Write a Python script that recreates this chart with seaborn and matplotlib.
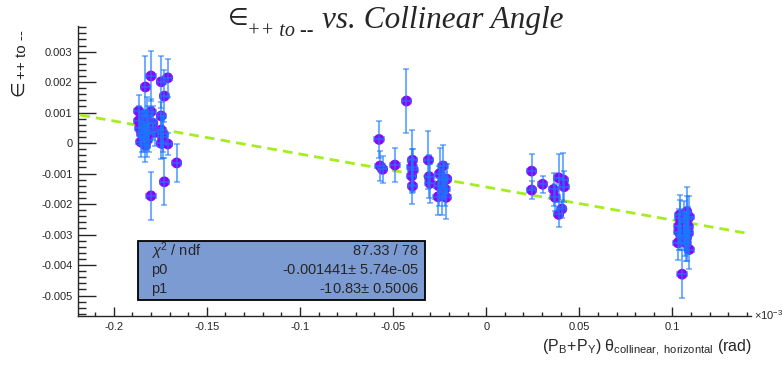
import matplotlib
matplotlib.use("Agg")
import matplotlib.pyplot as plt
from matplotlib.patches import Rectangle
from matplotlib.ticker import MultipleLocator, AutoMinorLocator, FuncFormatter
import numpy as np
import pandas as pd
import seaborn as sns

# x in units of 1e-3 rad, y = asymmetry
x_vals = [
    -0.1866, -0.1800, -0.1830, -0.1745, -0.1710, -0.1728, -0.1800, -0.1745, -0.1866, -0.1822,
    -0.1860, -0.1850, -0.1855, -0.1830, -0.1825, -0.1815, -0.1835, -0.1810, -0.1790, -0.1840,
    -0.1745, -0.1738, -0.1745, -0.1710, -0.1735, -0.1662, -0.1728, -0.1800, -0.1780, -0.1820,
    -0.0428, -0.0575, -0.0570, -0.0556, -0.0490, -0.0396, -0.0398, -0.0393, -0.0400, -0.0396,
    -0.0310, -0.0306, -0.0302, -0.0250, -0.0232, -0.0255, -0.0258, -0.0235, -0.0215, -0.0222,
    -0.0212, -0.0228,
    0.0244, 0.0244, 0.0303, 0.0362, 0.0370, 0.0389, 0.0415, 0.0419, 0.0406, 0.0389,
    0.1077, 0.1041, 0.1090, 0.1035, 0.1085, 0.1035, 0.1077, 0.1030, 0.1073, 0.1090,
    0.1052, 0.1060, 0.1070, 0.1045, 0.1080, 0.1065, 0.1040, 0.1085,
]
y_vals = [
    0.00105, 0.00220, 0.00184, 0.00201, 0.00214, 0.00154, 0.00103, 0.00089, 0.00073, 0.00092,
    0.00048, 0.00032, 0.00004, -0.00007, 0.00043, 0.00053, 0.00060, 0.00030, 0.00065, 0.00020,
    0.00043, 0.00020, -0.00001, -0.00003, 0.00030, -0.00065, -0.00127, -0.00173, 0.00035, 0.00010,
    0.00138, 0.00012, -0.00075, -0.00086, -0.00072, -0.00056, -0.00078, -0.00089, -0.00108, -0.00141,
    -0.00056, -0.00110, -0.00132, -0.00100, -0.00075, -0.00140, -0.00176, -0.00160, -0.00178, -0.00150,
    -0.00118, -0.00122,
    -0.00092, -0.00154, -0.00135, -0.00152, -0.00178, -0.00114, -0.00121, -0.00143, -0.00216, -0.00234,
    -0.00225, -0.00247, -0.00242, -0.00272, -0.00274, -0.00291, -0.00307, -0.00327, -0.00327, -0.00349,
    -0.00430, -0.00260, -0.00285, -0.00300, -0.00250, -0.00315, -0.00235, -0.00295,
]
y_errs = [
    0.00054, 0.00083, 0.00100, 0.00086, 0.00062, 0.00085, 0.00040, 0.00045, 0.00050, 0.00060,
    0.00055, 0.00060, 0.00050, 0.00055, 0.00065, 0.00070, 0.00045, 0.00060, 0.00055, 0.00050,
    0.00055, 0.00070, 0.00050, 0.00035, 0.00060, 0.00063, 0.00077, 0.00079, 0.00045, 0.00055,
    0.00104, 0.00060, 0.00050, 0.00045, 0.00055, 0.00100, 0.00060, 0.00070, 0.00055, 0.00060,
    0.00096, 0.00070, 0.00065, 0.00085, 0.00070, 0.00065, 0.00060, 0.00075, 0.00070, 0.00055,
    0.00050, 0.00060,
    0.00056, 0.00030, 0.00028, 0.00053, 0.00045, 0.00079, 0.00089, 0.00050, 0.00030, 0.00042,
    0.00080, 0.00060, 0.00070, 0.00055, 0.00065, 0.00060, 0.00080, 0.00055, 0.00060, 0.00065,
    0.00078, 0.00070, 0.00060, 0.00050, 0.00075, 0.00055, 0.00065, 0.00070,
]
x_err = 0.0025

# fit result y = p0 + p1 * x  (x in rad)
p0, p0_err = -0.001441, 5.74e-05
p1, p1_err = -10.83, 0.5006
chi2, ndf = 87.33, 78
fit_range = [-0.218, 0.139]

df = pd.DataFrame({"x": x_vals, "y": y_vals, "yerr": y_errs})
fit_x = np.linspace(fit_range[0], fit_range[1], 50)
fit_df = pd.DataFrame({"x": fit_x, "y": p0 + p1 * fit_x * 1e-3})

sns.set_style("ticks")
plt.rcParams["font.family"] = ["Liberation Sans", "DejaVu Sans"]
plt.rcParams["mathtext.fontset"] = "custom"
plt.rcParams["mathtext.rm"] = "Liberation Sans"
plt.rcParams["mathtext.it"] = "Liberation Sans:italic"

fig = plt.figure(figsize=(7.82, 3.66), dpi=100)
ax = fig.add_axes([0.0997, 0.1366, 0.8607, 0.7924])

sns.lineplot(data=fit_df, x="x", y="y", ax=ax, color="#a4ee1e", lw=2.0,
             linestyle=(0, (3.5, 2.2)), zorder=1)
sns.scatterplot(data=df, x="x", y="y", ax=ax, color="#9400f8", s=60,
                edgecolor="none", zorder=2, legend=False)
ax.errorbar(df["x"], df["y"], yerr=df["yerr"], xerr=x_err, fmt="none",
            ecolor="#1a78ff", alpha=0.6, elinewidth=1.5, capsize=2.2,
            capthick=1.2, zorder=3)

ax.set_xlim(-0.2192, 0.1422)
ax.set_ylim(-0.00567, 0.00384)
ax.set_xlabel("")
ax.set_ylabel("")
sns.despine(ax=ax)
for s in ("left", "bottom"):
    ax.spines[s].set_linewidth(1.0)

ax.xaxis.set_major_locator(MultipleLocator(0.05))
ax.xaxis.set_minor_locator(AutoMinorLocator(5))
ax.yaxis.set_major_locator(MultipleLocator(0.001))
ax.yaxis.set_minor_locator(AutoMinorLocator(5))
ax.xaxis.set_major_formatter(FuncFormatter(lambda v, p: f"{round(v, 3) + 0.0:g}"))
ax.yaxis.set_major_formatter(FuncFormatter(lambda v, p: f"{round(v, 4) + 0.0:g}"))
ax.tick_params(axis="x", which="major", direction="in", length=6.5, width=1, labelsize=8, pad=4)
ax.tick_params(axis="x", which="minor", direction="in", length=3, width=1)
ax.tick_params(axis="y", which="major", direction="in", length=13, width=1, labelsize=8, pad=4)
ax.tick_params(axis="y", which="minor", direction="in", length=6, width=1)

# stats box
ax.add_patch(Rectangle((0.089, 0.055), 0.427, 0.204, transform=ax.transAxes,
                       facecolor="#7d9bd3", edgecolor="black", lw=1.3, zorder=5))
rows = [
    (r"$\chi^2$ / ndf", f"{chi2:.2f} / {ndf}"),
    ("p0", f"{p0:.6f}$\\pm$ {p0_err:.2e}"),
    ("p1", f"{p1:.2f}$\\pm$ {p1_err:.4f}"),
]
for i, (lab, val) in enumerate(rows):
    yy = 0.224 - i * 0.0655
    ax.text(0.108, yy, lab, transform=ax.transAxes, fontsize=10.5, va="center", ha="left", zorder=6)
    ax.text(0.506, yy, val, transform=ax.transAxes, fontsize=10.5, va="center", ha="right", zorder=6)

# title pieces
fig.text(228 / 782, 1 - 25 / 366, "\u2208", fontsize=17, family="DejaVu Sans",
         ha="left", va="baseline")
fig.text(247 / 782, 1 - 36 / 366, "++ to --", fontsize=14.5, family="Liberation Serif",
         style="italic", ha="left", va="baseline")
fig.text(563 / 782, 1 - 28 / 366, "vs. Collinear Angle", fontsize=22.5,
         family="Liberation Serif", style="italic", ha="right", va="baseline")

# y axis title
fig.text(18 / 782, 1 - 88 / 366, "\u2208", fontsize=13, family="DejaVu Sans",
         rotation=90, ha="center", va="center")
fig.text(22 / 782, 1 - 30 / 366, "++ to --", fontsize=11, rotation=90,
         ha="center", va="top")

fig.text(752 / 782, 1 - 352 / 366,
         r"$(\mathrm{P}_{\mathrm{B}}\!+\!\mathrm{P}_{\mathrm{Y}})\ \mathrm{θ}_{\mathrm{collinear,\ horizontal}}\ (\mathrm{rad})$",
         fontsize=11.5, ha="right", va="baseline")
fig.text(754 / 782, 1 - 320 / 366, r"$\times10^{-3}$", fontsize=8, ha="left", va="baseline")

fig.savefig("out.png", dpi=100)
